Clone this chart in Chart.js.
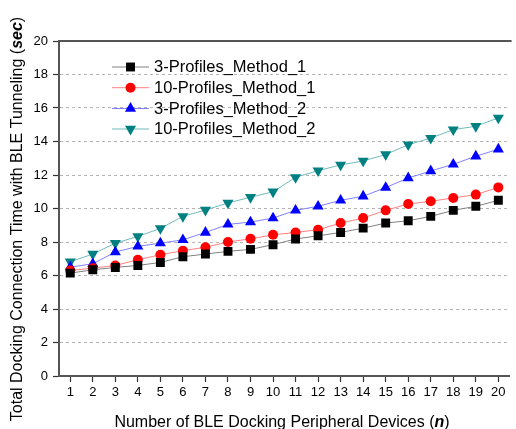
<!DOCTYPE html>
<html>
<head>
<meta charset="utf-8">
<script src="https://cdn.jsdelivr.net/npm/chart.js@4.4.1/dist/chart.umd.min.js"></script>
<style>
html,body{margin:0;padding:0;background:#fff;overflow:hidden;}
#wrap{width:516px;height:429px;position:relative;}
</style>
</head>
<body>
<div id="wrap"><canvas id="c" width="516" height="429"></canvas></div>
<script>
const categories = ['1','2','3','4','5','6','7','8','9','10','11','12','13','14','15','16','17','18','19','20'];
const profiles3Method1 = [6.14,6.34,6.48,6.60,6.78,7.12,7.28,7.44,7.56,7.84,8.18,8.37,8.57,8.83,9.13,9.27,9.53,9.89,10.13,10.49];
const profiles10Method1 = [6.30,6.44,6.60,6.94,7.24,7.48,7.69,8.00,8.19,8.43,8.57,8.73,9.13,9.43,9.89,10.27,10.43,10.63,10.83,11.26];
const profiles3Method2 = [6.50,6.70,7.40,7.74,7.93,8.13,8.57,9.05,9.19,9.43,9.89,10.13,10.49,10.73,11.25,11.82,12.24,12.64,13.12,13.54];
const profiles10Method2 = [6.82,7.28,7.93,8.33,8.81,9.53,9.91,10.33,10.67,11.00,11.86,12.26,12.60,12.84,13.22,13.81,14.20,14.71,14.91,15.41];
const yTickValues = [0,2,4,6,8,10,12,14,16,18,20];
const seriesNames = ['3-Profiles_Method_1','10-Profiles_Method_1','3-Profiles_Method_2','10-Profiles_Method_2'];

const FONT = '"Liberation Sans", Arial, sans-serif';

function ds(label, data, marker, line, style, radius, rotation){
  return {label, data, borderColor: line, backgroundColor: marker, pointBackgroundColor: marker,
    pointBorderColor: marker, pointBorderWidth: 0, pointStyle: style, pointRadius: radius,
    pointRotation: rotation, borderWidth: 1, tension: 0, fill: false};
}

const datasets = [
  ds(seriesNames[0], profiles3Method1, '#000000', '#808080', 'rect', 6.3, 0),
  ds(seriesNames[1], profiles10Method1, '#ff0000', '#ff8080', 'circle', 5, 0),
  ds(seriesNames[2], profiles3Method2, '#0000ff', '#8080ff', 'triangle', 6.4, 0),
  ds(seriesNames[3], profiles10Method2, '#008080', '#70baba', 'triangle', 6.4, 180)
];

function drawMixed(ctx, parts, size){
  let total = 0;
  const fonts = parts.map(p => (p[1] ? 'italic bold ' : '') + size + 'px ' + FONT);
  parts.forEach((p,i) => { ctx.font = fonts[i]; total += ctx.measureText(p[0]).width; });
  let x = -total/2;
  parts.forEach((p,i) => { ctx.font = fonts[i]; ctx.fillText(p[0], x, 0); x += ctx.measureText(p[0]).width; });
}

const decor = {
  id: 'decor',
  afterDraw(chart){
    const ctx = chart.ctx, a = chart.chartArea;
    ctx.save();
    // top frame
    ctx.strokeStyle = '#555'; ctx.lineWidth = 2;
    ctx.beginPath(); ctx.moveTo(a.left, a.top); ctx.lineTo(a.right + 2, a.top); ctx.stroke();
    // legend
    const rows = [67, 87.7, 108.5, 129];
    chart.data.datasets.forEach((d, i) => {
      const y = rows[i];
      ctx.strokeStyle = d.borderColor; ctx.lineWidth = 1;
      ctx.beginPath(); ctx.moveTo(112, y); ctx.lineTo(149, y); ctx.stroke();
      ctx.fillStyle = d.pointBackgroundColor;
      Chart.helpers.drawPoint(ctx, {pointStyle: d.pointStyle, radius: d.pointRadius, rotation: d.pointRotation, borderWidth: 0}, 130.5, y);
      ctx.fillStyle = '#000'; ctx.font = '16.5px ' + FONT; ctx.textBaseline = 'middle'; ctx.textAlign = 'left';
      ctx.fillText(d.label, 154, y + 0.5);
    });
    // axis titles
    ctx.fillStyle = '#000'; ctx.textBaseline = 'middle'; ctx.textAlign = 'left';
    ctx.save();
    ctx.translate(282, 423);
    drawMixed(ctx, [['Number of BLE Docking Peripheral Devices (', false], ['n', true], [')', false]], 16);
    ctx.restore();
    ctx.save();
    ctx.translate(18, 219); ctx.rotate(-Math.PI/2);
    drawMixed(ctx, [['Total Docking Connection Time with BLE Tunneling (', false], ['sec', true], [')', false]], 16);
    ctx.restore();
    ctx.restore();
  }
};

new Chart(document.getElementById('c'), {
  type: 'line',
  data: { labels: categories, datasets },
  options: {
    responsive: false, animation: false,
    layout: { padding: { top: 41, right: 0, left: 0, bottom: 0 } },
    plugins: { legend: { display: false }, tooltip: { enabled: false } },
    scales: {
      x: {
        type: 'category', offset: true,
        afterFit(s){ s.height = 53; },
        grid: { offset: false, drawOnChartArea: false, drawTicks: true, tickLength: 6, tickColor: '#333', tickWidth: 1.2 },
        border: { display: true, color: '#555', width: 2 },
        ticks: { color: '#000', font: { family: FONT, size: 13 }, padding: 3, maxRotation: 0, autoSkip: false }
      },
      y: {
        min: 0, max: 20,
        afterFit(s){ s.width = 59; },
        afterBuildTicks(s){ const t = []; for (let v = 0; v <= 20; v++) t.push({value: v}); s.ticks = t; },
        grid: {
          drawTicks: true, tickLength: 6, tickColor: '#333', tickWidth: 1.2,
          color: c => (c.tick && (c.tick.value === 0 || c.tick.value === 20)) ? 'rgba(0,0,0,0)' : (c.tick && c.tick.value % 2 === 0 ? '#b4b4b4' : '#d6d6d6'),
          lineWidth: 1
        },
        border: { display: true, color: '#555', width: 2, dash: [3,3] },
        ticks: { color: '#000', font: { family: FONT, size: 13 }, padding: 5,
          callback: v => yTickValues.includes(v) ? String(v) : '' }
      }
    }
  },
  plugins: [decor]
});
</script>
</body>
</html>
